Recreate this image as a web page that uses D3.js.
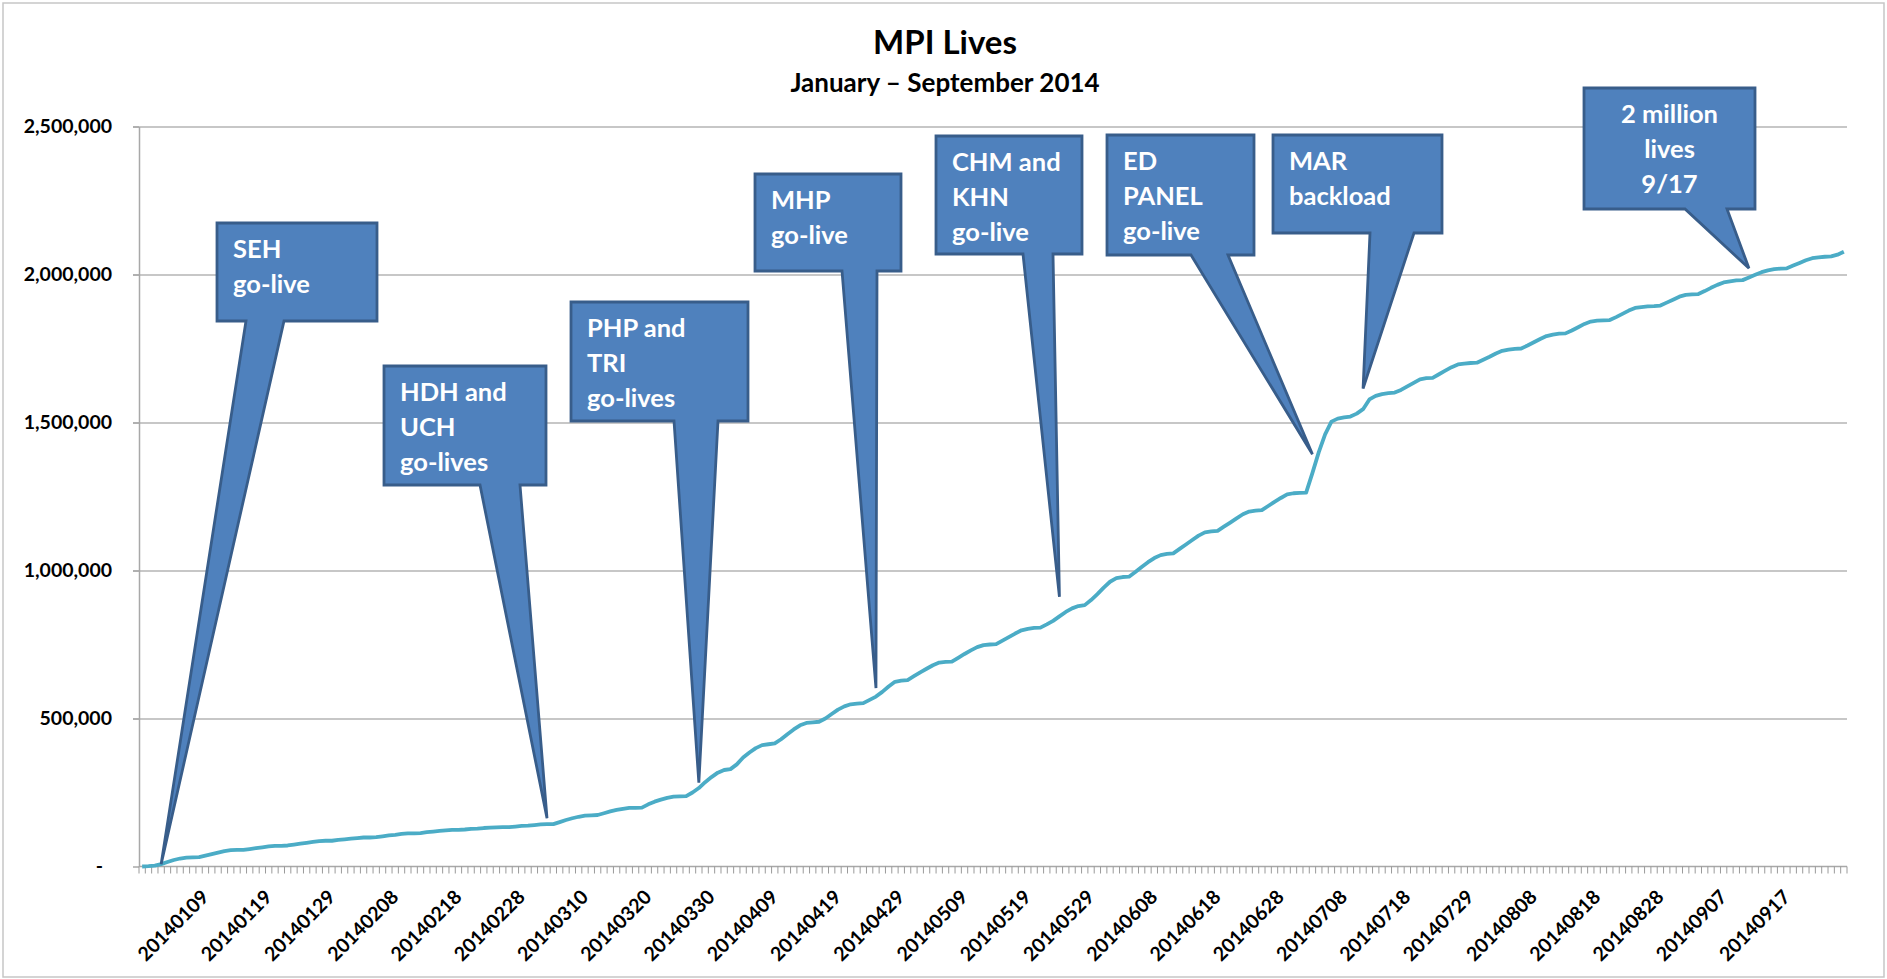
<!DOCTYPE html>
<html>
<head>
<meta charset="utf-8">
<script src="https://cdn.jsdelivr.net/npm/d3@7/dist/d3.min.js"></script>
<style>
  body { margin: 0; background: #fff; }
  svg text { font-family: Lato, "Open Sans", sans-serif; font-weight: bold; }
</style>
</head>
<body>
<svg id="chart" width="1887" height="979"></svg>
<script>
// categories: one per report day, one July day has no row
const firstDay = "20131231";
const lastDay = "20140927";
const missingDays = ["20140720"];

// every 10th category carries a label
const tickLabels = [
  "20140109", "20140119", "20140129", "20140208", "20140218", "20140228",
  "20140310", "20140320", "20140330", "20140409", "20140419", "20140429",
  "20140509", "20140519", "20140529", "20140608", "20140618", "20140628",
  "20140708", "20140718", "20140729", "20140808", "20140818", "20140828",
  "20140907", "20140917"
];

const yTicks = [0, 500000, 1000000, 1500000, 2000000, 2500000];

// cumulative MPI lives, in thousands, one value per category
const livesK = [
  0, 1, 3, 8, 15, 22, 27, 30, 31, 32,
  37, 42, 47, 52, 55, 56, 56, 59, 62, 65,
  68, 70, 70, 71, 74, 77, 80, 83, 86, 87,
  87, 90, 92, 94, 96, 98, 98, 99, 102, 105,
  107, 110, 112, 112, 113, 116, 118, 120, 122, 124,
  124, 125, 127, 128, 130, 131, 132, 133, 133, 135,
  137, 138, 140, 142, 143, 143, 150, 157, 163, 168,
  172, 173, 174, 180, 186, 191, 195, 198, 198, 199,
  210, 219, 226, 232, 236, 237, 238, 250, 265, 285,
  302, 317, 326, 329, 345, 368, 385, 400, 410, 413,
  416, 430, 447, 463, 477, 485, 487, 489, 500, 515,
  530, 541, 548, 550, 552, 563, 574, 590, 608, 624,
  628, 630, 643, 656, 668, 680, 689, 691, 692, 705,
  718, 730, 741, 748, 750, 751, 763, 775, 787, 798,
  803, 806, 807, 818, 830, 845, 860, 872, 880, 883,
  900, 920, 942, 962, 974, 978, 979, 995, 1012, 1028,
  1042, 1052, 1056, 1058, 1073, 1088, 1103, 1118, 1129, 1132,
  1134, 1148, 1162, 1176, 1190, 1199, 1202, 1204, 1218, 1232,
  1245, 1257, 1261, 1262, 1263, 1330, 1400, 1460, 1503, 1513,
  1517, 1520, 1530, 1545, 1578, 1590, 1596, 1599, 1601, 1610,
  1622, 1634, 1646, 1650, 1651, 1663, 1675, 1687, 1696, 1699,
  1701, 1702, 1712, 1722, 1733, 1742, 1746, 1749, 1750, 1760,
  1771, 1782, 1792, 1797, 1800, 1801, 1811, 1822, 1833, 1841,
  1844, 1845, 1846, 1856, 1867, 1878, 1887, 1890, 1892, 1893,
  1895, 1905, 1915, 1925, 1931, 1933, 1934, 1944, 1955, 1965,
  1973, 1977, 1980, 1981, 1990, 1999, 2008, 2014, 2018, 2020,
  2021, 2030, 2039, 2048, 2055, 2058, 2060, 2061, 2067, 2077
];

// callouts: text lines, and the point the wedge aims at
const calloutText = [
  ["SEH", "go-live"],
  ["HDH and", "UCH", "go-lives"],
  ["PHP and", "TRI", "go-lives"],
  ["MHP", "go-live"],
  ["CHM and", "KHN", "go-live"],
  ["ED", "PANEL", "go-live"],
  ["MAR", "backload"],
  ["2 million", "lives", "9/17"]
];
const calloutDate = ["20140103", "20140305", "20140329", "20140426", "20140525", "20140704", "20140712", "20140912"];
const calloutValue = [8000, 163000, 283000, 603000, 911000, 1393000, 1615000, 2021000];

// box layout in px: left, top, right, bottom, wedge base left, wedge base right
const calloutBox = [
  [217, 223, 377, 321, 246, 284],
  [384, 366, 546, 485, 480, 520],
  [571, 302, 748, 421, 674, 718],
  [755, 174, 901, 271, 842, 877],
  [936, 136, 1082, 254, 1023, 1053],
  [1107, 135, 1254, 255, 1191, 1228],
  [1273, 135, 1442, 233, 1370, 1414],
  [1584, 88, 1755, 209, 1685, 1727]
];
const calloutCentered = [false, false, false, false, false, false, false, true];

const svg = d3.select("#chart");
const plotLeft = 139, plotRight = 1847, plotTop = 126.5, plotBottom = 866.5;

const parse = d3.timeParse("%Y%m%d");
const fmt = d3.timeFormat("%Y%m%d");
const categories = d3.timeDay
  .range(parse(firstDay), d3.timeDay.offset(parse(lastDay), 1))
  .map(fmt)
  .filter(d => !missingDays.includes(d));

const x = d3.scaleBand().domain(categories).range([plotLeft, plotRight]);
const bw = x.bandwidth();
const cx = d => x(d) + bw / 2;
const y = d3.scaleLinear().domain([0, 2500000]).range([plotBottom, plotTop]);

// chart border
svg.append("rect")
  .attr("x", 3).attr("y", 3).attr("width", 1881).attr("height", 974)
  .attr("fill", "#fff").attr("stroke", "#c6c6c6").attr("stroke-width", 1.5);

// title
svg.append("text").attr("x", 945).attr("y", 54).attr("text-anchor", "middle")
  .style("font-size", "33px").text("MPI Lives");
svg.append("text").attr("x", 945).attr("y", 92).attr("text-anchor", "middle")
  .style("font-size", "26px").text("January \u2013 September 2014");

// gridlines (a left axis sitting on the right edge, ticks run back past the y axis)
const grid = svg.append("g")
  .attr("transform", "translate(" + plotRight + ",0)")
  .call(d3.axisLeft(y).tickValues(yTicks.filter(v => v > 0)).tickSize(plotRight - plotLeft + 6).tickFormat(""));
grid.select(".domain").remove();
grid.selectAll("line").attr("stroke", "#b4b4b4").attr("stroke-width", 1.5);

// y axis
const yAxis = svg.append("g")
  .attr("transform", "translate(" + plotLeft + ",0)")
  .call(d3.axisLeft(y).tickValues(yTicks).tickSizeInner(6).tickSizeOuter(0).tickPadding(21)
    .tickFormat(v => v === 0 ? "-" : d3.format(",")(v)));
yAxis.select(".domain").attr("stroke", "#a8a8a8").attr("stroke-width", 1.5);
yAxis.selectAll("line").attr("stroke", "#a8a8a8").attr("stroke-width", 1.5);
yAxis.selectAll("text")
  .style("font-size", "19.5px").attr("fill", "#000")
  .attr("dx", v => v === 0 ? -9 : 0);

// x axis: tick between every category
svg.append("line")
  .attr("x1", plotLeft).attr("x2", plotRight).attr("y1", plotBottom).attr("y2", plotBottom)
  .attr("stroke", "#a8a8a8").attr("stroke-width", 1.5);
svg.append("g").selectAll("line")
  .data(categories.concat([null]))
  .join("line")
  .attr("x1", d => d === null ? plotRight : x(d))
  .attr("x2", d => d === null ? plotRight : x(d))
  .attr("y1", plotBottom).attr("y2", plotBottom + 7)
  .attr("stroke", "#9a9a9a").attr("stroke-width", 1);

svg.append("g").selectAll("text")
  .data(tickLabels)
  .join("text")
  .attr("transform", d => "translate(" + (cx(d) + 6) + "," + (plotBottom + 27) + ") rotate(-45)")
  .attr("text-anchor", "end")
  .attr("dy", "0.35em")
  .style("font-size", "19.5px")
  .text(d => d);

// data line
const line = d3.line()
  .x((d, i) => cx(categories[i]))
  .y(d => y(d * 1000));
svg.append("path")
  .datum(livesK)
  .attr("d", line)
  .attr("fill", "none")
  .attr("stroke", "#4bacc6")
  .attr("stroke-width", 3.8)
  .attr("stroke-linejoin", "round");

// callouts
const callouts = svg.append("g").selectAll("g")
  .data(calloutText.map((t, i) => ({
    lines: t, box: calloutBox[i], centered: calloutCentered[i],
    tx: cx(calloutDate[i]), ty: y(calloutValue[i])
  })))
  .join("g");

callouts.append("path")
  .attr("d", d => {
    const [l, t, r, b, bl, br] = d.box;
    return "M" + l + "," + t + "H" + r + "V" + b + "H" + br +
      "L" + d.tx + "," + d.ty + "L" + bl + "," + b + "H" + l + "Z";
  })
  .attr("fill", "#4f81bd")
  .attr("stroke", "#385d8a")
  .attr("stroke-width", 2.8)
  .attr("stroke-linejoin", "miter");

callouts.each(function(d) {
  const g = d3.select(this);
  const [l, t, r] = d.box;
  d.lines.forEach((s, j) => {
    g.append("text")
      .attr("x", d.centered ? (l + r) / 2 : l + 16)
      .attr("y", t + 35 + j * 35)
      .attr("text-anchor", d.centered ? "middle" : "start")
      .attr("fill", "#fff")
      .style("font-size", "25.5px")
      .text(s);
  });
});
</script>
</body>
</html>
